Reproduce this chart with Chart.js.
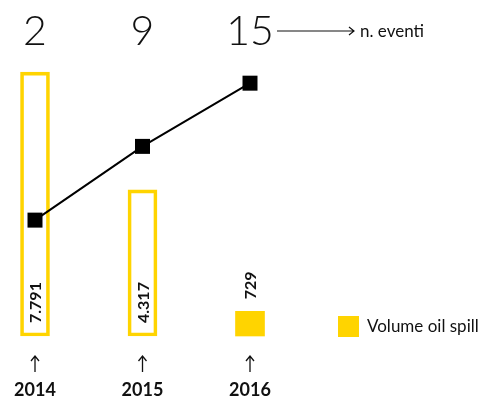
<!DOCTYPE html>
<html>
<head>
<meta charset="utf-8">
<script src="https://cdn.jsdelivr.net/npm/chart.js"></script>
<style>
  html, body { margin: 0; padding: 0; background: #fff; }
  #wrap { width: 490px; height: 399px; position: relative; }
</style>
</head>
<body>
<div id="wrap"><canvas id="chart"></canvas></div>
<script>
// data
const years = ['2014', '2015', '2016'];
const spillVolume = [7791, 4317, 729];
const spillLabels = ['7.791', '4.317', '729'];
const eventCount = [2, 9, 15];

const YELLOW = '#FFD400';
const FONT = 'Lato, "Open Sans", sans-serif';

// custom text: counts on top, arrows, years, value labels, legend
const annotations = {
  id: 'annotations',
  afterDraw(chart) {
    const ctx = chart.ctx;
    const x = chart.scales.x;
    const y = chart.scales.y;
    ctx.save();
    ctx.fillStyle = '#111';
    ctx.strokeStyle = '#111';

    // big event counts
    ctx.font = '300 41px ' + FONT;
    ctx.textAlign = 'center';
    ctx.textBaseline = 'alphabetic';
    eventCount.forEach((v, i) => {
      ctx.fillText(String(v), x.getPixelForValue(i), 45);
    });

    // arrow -> n. eventi
    ctx.lineWidth = 1.2;
    ctx.beginPath();
    ctx.moveTo(277, 31);
    ctx.lineTo(354, 31);
    ctx.moveTo(349, 27);
    ctx.lineTo(354, 31);
    ctx.lineTo(349, 35);
    ctx.stroke();
    ctx.font = '17px ' + FONT;
    ctx.textAlign = 'left';
    ctx.fillText('n. eventi', 360, 37);

    // up arrows and years
    years.forEach((yr, i) => {
      const px = x.getPixelForValue(i);
      ctx.lineWidth = 1.3;
      ctx.beginPath();
      ctx.moveTo(px, 372);
      ctx.lineTo(px, 356);
      ctx.moveTo(px - 4, 361);
      ctx.lineTo(px, 356);
      ctx.lineTo(px + 4, 361);
      ctx.stroke();
      ctx.font = 'bold 18px ' + FONT;
      ctx.textAlign = 'center';
      ctx.fillText(yr, px, 396);
    });

    // rotated value labels
    ctx.font = 'bold 16px ' + FONT;
    ctx.textAlign = 'left';
    spillVolume.forEach((v, i) => {
      const px = x.getPixelForValue(i);
      const bottom = y.getPixelForValue(0);
      const top = y.getPixelForValue(v);
      const startY = (bottom - top) > 60 ? bottom - 13 : top - 12;
      ctx.save();
      ctx.translate(px + 6, startY);
      ctx.rotate(-Math.PI / 2);
      ctx.fillText(spillLabels[i], 0, 0);
      ctx.restore();
    });

    // legend
    ctx.fillStyle = YELLOW;
    ctx.fillRect(338, 316, 21, 21);
    ctx.fillStyle = '#111';
    ctx.font = '17px ' + FONT;
    ctx.textBaseline = 'middle';
    ctx.fillText('Volume oil spill', 367, 327);

    ctx.restore();
  }
};

new Chart(document.getElementById('chart'), {
  type: 'bar',
  data: {
    labels: years,
    datasets: [{
      type: 'line',
      label: 'n. eventi',
      data: eventCount,
      yAxisID: 'y2',
      borderColor: '#000',
      borderWidth: 2,
      pointStyle: 'rect',
      pointRadius: 10.6,
      pointBackgroundColor: '#000',
      pointBorderWidth: 0,
      tension: 0,
      clip: false,
      order: 0
    }, {
      label: 'Volume oil spill',
      data: spillVolume,
      yAxisID: 'y',
      backgroundColor: ['rgba(0,0,0,0)', 'rgba(0,0,0,0)', YELLOW],
      borderColor: YELLOW,
      borderWidth: [3, 3, 0],
      borderSkipped: false,
      barThickness: 29,
      clip: false,
      order: 1
    }]
  },
  options: {
    responsive: true,
    maintainAspectRatio: false,
    animation: false,
    layout: {
      padding: { left: 35, right: 240, top: 60, bottom: 63 }
    },
    scales: {
      x: { display: false, offset: false },
      y: { display: false, min: 0, max: 8150 },
      y2: { display: false, min: -9, max: 17.2 }
    },
    plugins: {
      legend: { display: false },
      tooltip: { enabled: false }
    }
  },
  plugins: [annotations]
});
</script>
</body>
</html>
